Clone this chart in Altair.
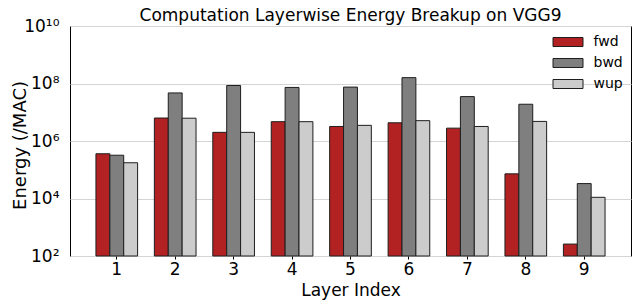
import altair as alt
import pandas as pd

layers = ["1", "2", "3", "4", "5", "6", "7", "8", "9"]
series = ["fwd", "bwd", "wup"]
fwd = [3.6e5, 6.3e6, 2.0e6, 4.7e6, 3.2e6, 4.3e6, 2.8e6, 7.2e4, 2.6e2]
bwd = [3.2e5, 4.7e7, 8.5e7, 7.3e7, 7.5e7, 1.6e8, 3.5e7, 1.9e7, 3.3e4]
wup = [1.75e5, 6.2e6, 2.0e6, 4.7e6, 3.5e6, 5.1e6, 3.2e6, 4.8e6, 1.1e4]
colors = ["#b22222", "#7f7f7f", "#cccccc"]
y_tick_values = [1e2, 1e4, 1e6, 1e8, 1e10]
y_tick_labels = ["10²", "10⁴", "10⁶", "10⁸", "10¹⁰"]

rows = []
for name, vals in zip(series, [fwd, bwd, wup]):
    for layer, v in zip(layers, vals):
        rows.append({"layer": layer, "series": name, "energy": v})
df = pd.DataFrame(rows)

label_expr = "'" + y_tick_labels[-1] + "'"
for v, lab in reversed(list(zip(y_tick_values[:-1], y_tick_labels[:-1]))):
    label_expr = f"datum.value < {v * 1.5} ? '{lab}' : ({label_expr})"

FONT = "DejaVu Sans"

chart = alt.Chart(df).mark_bar(stroke="#1e1e1e", strokeWidth=1, opacity=1).encode(
    x=alt.X("layer:N", sort=layers,
            scale=alt.Scale(paddingInner=0.287, paddingOuter=0.444),
            axis=alt.Axis(title="Layer Index", labelAngle=0, ticks=True, tickSize=3,
                          tickColor="#000000", tickWidth=1, domain=False, grid=False,
                          labelFontSize=17, labelFont=FONT, labelColor="#000000",
                          labelPadding=2, titleFontSize=17, titleFont=FONT,
                          titleFontWeight="normal", titleColor="#000000",
                          titleBaseline="alphabetic", titleY=39)),
    xOffset=alt.XOffset("series:N", sort=series),
    y=alt.Y("energy:Q",
            scale=alt.Scale(type="log", domain=[1e2, 1e10], nice=False),
            axis=alt.Axis(title="Energy (/MAC)", values=y_tick_values,
                          labelExpr=label_expr, ticks=False, domain=False,
                          grid=True, gridColor="#d4d4d4", gridWidth=1,
                          labelFontSize=17, labelFont=FONT, labelColor="#000000",
                          labelPadding=11, titleFontSize=18, titleFont=FONT,
                          titleFontWeight="normal", titleColor="#000000",
                          titleAngle=-90, titleAlign="center",
                          titleBaseline="alphabetic", titleX=-45, titleY=119)),
    y2=alt.Y2Datum(1e2),
    color=alt.Color("series:N", sort=series,
                    scale=alt.Scale(domain=series, range=colors),
                    legend=alt.Legend(title=None, orient="none", legendX=491, legendY=9,
                                      symbolType="M-3,-0.9H3V0.9H-3Z", symbolSize=100,
                                      symbolStrokeColor="#1e1e1e", symbolStrokeWidth=1,
                                      symbolOpacity=1, labelFontSize=14, labelFont=FONT,
                                      labelColor="#000000", labelOffset=18.5,
                                      rowPadding=7, padding=0)),
).properties(
    width=561,
    height=230,
    autosize=alt.AutoSizeParams(type="none"),
    padding={"left": 62, "top": 18, "right": 1, "bottom": 44},
    title=alt.TitleParams("Computation Layerwise Energy Breakup on VGG9", fontSize=17,
                          font=FONT, fontWeight="normal", color="#000000",
                          anchor="middle", baseline="alphabetic", offset=0, dy=21),
).configure(background="white").configure_view(stroke="#000000", strokeWidth=1)

chart.save("out.html", embed_options={"renderer": "svg", "actions": False})
